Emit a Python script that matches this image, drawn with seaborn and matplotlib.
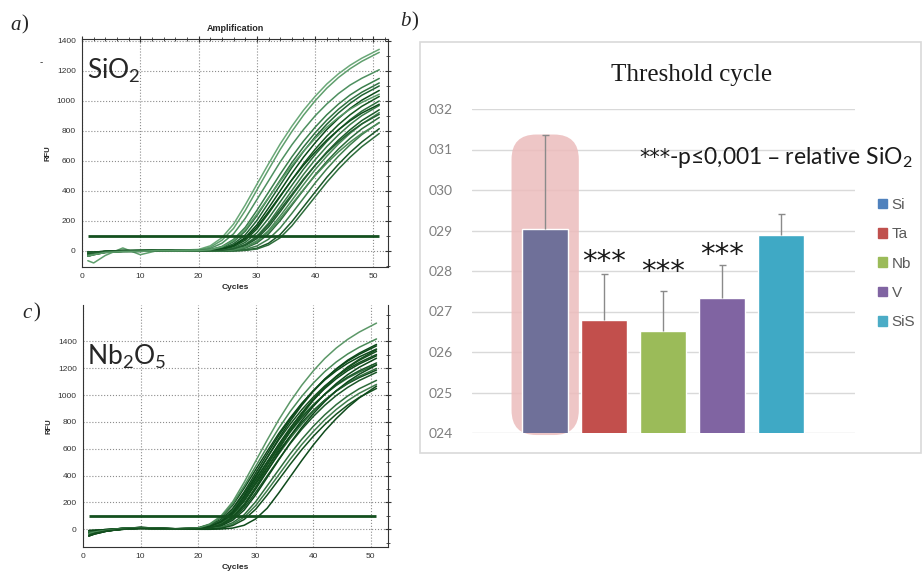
import numpy as np
import pandas as pd
import matplotlib
matplotlib.use("Agg")
import matplotlib.pyplot as plt
import seaborn as sns
from matplotlib.patches import FancyBboxPatch, Rectangle
from matplotlib.ticker import MultipleLocator

# ---- amplification curves (RFU at these cycles) ----
cycles = [1, 2, 4, 7, 10, 13, 16, 20, 22, 24, 26, 28, 30, 32, 34, 36, 38, 40, 42, 44, 46, 48, 51]

sio2_rfu = [
    [-25, -18, -6, 0, 2, 3, 4, 10, 34, 88, 179, 306, 444, 581, 713, 831, 938, 1031, 1113, 1181, 1238, 1285, 1344],
    [-65, -80, -30, 20, -25, 3, 2, 7, 25, 71, 150, 269, 406, 542, 676, 796, 905, 1001, 1085, 1156, 1215, 1264, 1324],
    [-15, -10, -4, 2, 0, 5, 3, 5, 17, 51, 114, 217, 342, 467, 593, 707, 809, 901, 980, 1049, 1106, 1151, 1208],
    [-30, -22, -8, -2, -3, 2, 2, 3, 9, 30, 77, 157, 270, 391, 512, 627, 732, 825, 908, 979, 1040, 1089, 1150],
    [-10, -12, -5, 0, 4, 6, 2, 2, 6, 22, 62, 131, 234, 353, 472, 589, 693, 788, 872, 945, 1007, 1058, 1120],
    [-35, -25, -10, -4, -2, 3, 1, 1, 4, 16, 48, 107, 203, 321, 439, 556, 663, 760, 845, 920, 984, 1038, 1100],
    [-20, -14, -3, 4, 3, 4, 2, 1, 3, 12, 38, 89, 174, 286, 401, 517, 625, 721, 809, 884, 950, 1005, 1070],
    [-5, -8, -2, 1, 0, 2, 0, 0, 2, 8, 28, 71, 146, 250, 362, 474, 581, 678, 765, 842, 908, 964, 1030],
    [-25, -18, -6, 0, 2, 3, 1, 0, 1, 6, 20, 57, 121, 217, 327, 437, 545, 642, 730, 807, 875, 932, 1000],
    [-15, -10, -4, 2, 0, 5, 3, 1, 0, 4, 15, 44, 98, 186, 294, 402, 510, 608, 696, 774, 843, 902, 970],
    [-30, -22, -8, -2, -3, 2, 2, 0, 0, 3, 11, 35, 82, 159, 261, 367, 472, 571, 660, 739, 808, 869, 941],
    [-10, -12, -5, 0, 4, 6, 2, 0, 0, 2, 8, 26, 67, 136, 233, 337, 442, 542, 632, 713, 784, 846, 922],
    [-35, -25, -10, -4, -2, 3, 1, 0, 0, 1, 6, 19, 53, 113, 202, 304, 406, 507, 597, 679, 751, 814, 890],
    [-20, -14, -3, 4, 3, 4, 2, 1, 0, 0, 3, 10, 33, 78, 153, 250, 351, 453, 547, 632, 708, 775, 857],
    [-5, -8, -2, 1, 0, 2, 0, 0, 0, 0, 1, 5, 18, 51, 109, 195, 294, 393, 491, 578, 657, 726, 815],
    [-25, -18, -6, 0, 2, 3, 1, 0, 0, 0, 0, 4, 13, 40, 88, 167, 264, 361, 458, 546, 625, 695, 783],
    [-15, -10, -4, 2, 0, 5, 3, 1, 3, 11, 35, 81, 159, 261, 367, 473, 571, 659, 739, 808, 868, 919, 978],
    [-30, -22, -8, -2, -3, 2, 2, 0, 0, 2, 7, 24, 62, 126, 216, 312, 409, 502, 585, 660, 726, 783, 854],
    [-10, -12, -5, 0, 4, 6, 2, 0, 0, 4, 14, 41, 92, 175, 276, 377, 479, 571, 654, 727, 792, 847, 911],
    [-35, -25, -10, -4, -2, 3, 1, 3, 8, 27, 70, 143, 245, 355, 465, 570, 665, 750, 825, 890, 945, 990, 1045],
]
sio2_colors = ["#6aa878", "#5f9f6d", "#4e9060", "#3b7f4c", "#2f7140", "#1f6231", "#0c4a19",
               "#14561f", "#2a6c3a", "#3a7a48", "#1c5c2a", "#4a8a58", "#2c6b3a", "#3f7e4d",
               "#1a5828", "#2d6d3b", "#0d4c1b", "#4d8c5a", "#235f31", "#5a9a68"]

nb2o5_rfu = [
    [-30, -20, -8, 5, 10, 6, 4, 11, 39, 100, 204, 350, 508, 665, 815, 951, 1073, 1180, 1273, 1351, 1416, 1470, 1537],
    [-45, -30, -12, 2, 8, 5, 3, 10, 34, 88, 179, 306, 444, 581, 713, 831, 938, 1031, 1113, 1181, 1238, 1285, 1344],
    [-15, -12, -5, 8, 12, 7, 4, 7, 24, 70, 148, 265, 399, 533, 665, 783, 891, 985, 1068, 1137, 1196, 1243, 1303],
    [-25, -22, -10, 0, 6, 4, 2, 8, 26, 73, 155, 278, 419, 559, 698, 822, 934, 1033, 1120, 1193, 1254, 1304, 1367],
    [-50, -35, -15, 3, 9, 6, 3, 7, 23, 66, 139, 250, 376, 503, 627, 738, 840, 928, 1006, 1072, 1127, 1172, 1228],
    [-10, -8, -2, 6, 14, 8, 4, 6, 18, 55, 122, 232, 366, 500, 634, 756, 866, 964, 1049, 1122, 1183, 1232, 1293],
    [-30, -20, -8, 5, 10, 6, 3, 5, 18, 53, 117, 222, 351, 480, 608, 725, 831, 924, 1006, 1076, 1135, 1182, 1240],
    [-45, -30, -12, 2, 8, 5, 2, 5, 17, 50, 112, 213, 336, 459, 582, 694, 795, 885, 963, 1030, 1086, 1131, 1187],
    [-15, -12, -5, 8, 12, 7, 4, 4, 14, 45, 107, 209, 343, 481, 620, 750, 866, 970, 1061, 1140, 1206, 1260, 1326],
    [-25, -22, -10, 0, 6, 4, 2, 4, 13, 41, 97, 189, 310, 435, 561, 678, 783, 878, 960, 1032, 1091, 1140, 1199],
    [-50, -35, -15, 3, 9, 6, 3, 3, 10, 33, 85, 174, 299, 433, 567, 695, 811, 915, 1007, 1086, 1153, 1208, 1275],
    [-10, -8, -2, 6, 14, 8, 4, 3, 9, 30, 78, 160, 274, 398, 521, 638, 745, 840, 924, 997, 1058, 1109, 1170],
    [-30, -20, -8, 5, 10, 6, 3, 2, 7, 24, 67, 143, 256, 386, 516, 643, 758, 861, 952, 1033, 1100, 1156, 1224],
    [-45, -30, -12, 2, 8, 5, 2, 1, 4, 16, 49, 108, 205, 324, 443, 562, 670, 767, 853, 929, 994, 1048, 1110],
    [-15, -12, -5, 8, 12, 7, 4, 1, 3, 12, 38, 90, 176, 288, 405, 522, 631, 728, 816, 893, 959, 1014, 1080],
    [-25, -22, -10, 0, 6, 4, 2, 1, 2, 8, 28, 73, 149, 255, 369, 484, 593, 692, 780, 858, 926, 983, 1050],
    [-50, -35, -15, 3, 9, 6, 3, 0, 0, 2, 9, 30, 77, 157, 270, 391, 512, 627, 732, 825, 908, 979, 1067],
    [-10, -8, -2, 6, 14, 8, 4, 6, 20, 59, 130, 247, 390, 533, 676, 806, 923, 1027, 1118, 1196, 1261, 1313, 1378],
    [-30, -20, -8, 5, 10, 6, 3, 9, 36, 92, 189, 323, 469, 614, 752, 878, 990, 1089, 1175, 1247, 1307, 1357, 1419],
    [-45, -30, -12, 2, 8, 5, 2, 3, 10, 35, 90, 183, 314, 454, 595, 730, 851, 960, 1056, 1139, 1210, 1267, 1338],
]
nb2o5_colors = ["#5c9868", "#0e4a1b", "#14501f", "#0e4a1b", "#2f6d3c", "#0e4a1b", "#1a5627",
                "#0e4a1b", "#14501f", "#2f6d3c", "#0e4a1b", "#1a5627", "#0e4a1b", "#2f6d3c",
                "#3f7c4c", "#14501f", "#0e4a1b", "#0e4a1b", "#4a8a58", "#14501f"]

threshold_rfu = 100

# ---- threshold cycle bar chart ----
ct_groups = ["Si", "Ta", "Nb", "V", "SiS"]
ct_mean = [29.04, 26.79, 26.53, 27.34, 28.88]
ct_err = [2.33, 1.13, 0.98, 0.81, 0.53]
bar_colors = ["#6f7099", "#c24f4c", "#9bbb59", "#8064a2", "#3fa9c5"]
legend_colors = ["#4f81bd", "#c0504d", "#9bbb59", "#8064a2", "#4bacc6"]
ct_ticks = [24, 25, 26, 27, 28, 29, 30, 31, 32]
star_groups = [1, 2, 3]
star_y = [28.44, 28.20, 28.62]

sns.set_theme(style="white")
plt.rcParams["font.family"] = ["Liberation Sans", "DejaVu Sans"]
plt.rcParams["mathtext.default"] = "regular"

W, H = 922, 578
fig = plt.figure(figsize=(W / 100, H / 100), dpi=100)


def px_axes(l, t, r, b):
    return fig.add_axes([l / W, 1 - b / H, (r - l) / W, (b - t) / H])


def amp_panel(ax, rows, colors, xlim, ylim, yticks):
    df = pd.DataFrame([(i, c, v) for i, row in enumerate(rows) for c, v in zip(cycles, row)],
                      columns=["curve", "cycle", "rfu"])
    pal = {i: colors[i] for i in range(len(rows))}
    sns.lineplot(data=df, x="cycle", y="rfu", hue="curve", palette=pal, legend=False,
                 estimator=None, lw=1.1, ax=ax)
    ax.hlines(threshold_rfu, 1, 51, color="#14501f", lw=2, zorder=5)
    ax.set_xlim(*xlim)
    ax.set_ylim(*ylim)
    ax.set_xticks([0, 10, 20, 30, 40, 50])
    ax.set_yticks(yticks)
    ax.xaxis.set_minor_locator(MultipleLocator(2))
    ax.yaxis.set_minor_locator(MultipleLocator(100))
    ax.grid(True, which="major", ls=":", color="#8c8c8c", lw=0.8)
    ax.tick_params(which="both", direction="inout", top=True, right=True,
                   labelsize=6, labelcolor="#333333", color="#333333", pad=2)
    ax.tick_params(which="major", length=5, width=0.8)
    ax.tick_params(which="minor", length=3, width=0.6)
    for s in ax.spines.values():
        s.set_color("#333333")
        s.set_linewidth(0.8)
    ax.set_xlabel("Cycles", fontsize=6, fontweight="bold", labelpad=3)
    ax.set_ylabel("RFU", fontsize=5.5, fontweight="bold", labelpad=4)


ax_a = px_axes(82, 39, 388, 267)
amp_panel(ax_a, sio2_rfu, sio2_colors, (0.2, 52.5), (-107, 1413), range(0, 1401, 200))
ax_a.set_title("Amplification", fontsize=6.5, fontweight="bold", pad=6)
fig.text(87 / W, 1 - 71 / H, "SiO$_2$", fontsize=19, family="Lato", va="center")
fig.text(40 / W, 1 - 62 / H, "-", fontsize=7, va="center")

ax_c = px_axes(83, 305, 388, 547)
amp_panel(ax_c, nb2o5_rfu, nb2o5_colors, (0.5, 53.0), (-132, 1672), range(0, 1401, 200))
ax_c.spines["top"].set_visible(False)
ax_c.tick_params(which="both", top=False)
fig.text(87 / W, 1 - 357 / H, "Nb$_2$O$_5$", fontsize=19, family="Lato", va="center")

# panel letters
for x, y, ch in [(10, 25, "a"), (400, 22, "b"), (22, 313, "c")]:
    fig.text(x / W, 1 - y / H, ch, fontsize=15, family="Liberation Serif",
             style="italic", va="center")
    fig.text(x / W + 0.012, 1 - y / H, ")", fontsize=15, family="Liberation Serif", va="center")

# ---- panel b ----
fig.add_artist(Rectangle((420 / W, 1 - 453 / H), (921 - 420) / W, (453 - 42) / H,
                         transform=fig.transFigure, fill=False, ec="#d9d9d9", lw=1.2))

ax_b = px_axes(472, 109, 855, 433)
ax_b.set_xlim(-1.24, 5.25)
ax_b.set_ylim(24, 32)
hl = FancyBboxPatch((-0.57, 23.95), 1.14, ct_mean[0] + ct_err[0] - 23.95,
                    boxstyle="round,pad=0,rounding_size=0.42", mutation_aspect=1.46,
                    fc="#ecbcbc", ec="none", alpha=0.85, zorder=1, clip_on=False)
ax_b.add_patch(hl)
sns.barplot(x=ct_groups, y=ct_mean, hue=ct_groups, palette=bar_colors, width=0.78,
            saturation=1, legend=False, ax=ax_b, zorder=2)
xs = np.arange(len(ct_groups))
tops = np.array(ct_mean) + np.array(ct_err)
ax_b.vlines(xs, ct_mean, tops, color="#8a8a8a", lw=1, zorder=3)
ax_b.hlines(tops, xs - 0.06, xs + 0.06, color="#8a8a8a", lw=1, zorder=3)
ax_b.set_xlim(-1.24, 5.25)
ax_b.set_ylim(24, 32)
ax_b.set_yticks(ct_ticks)
ax_b.set_yticklabels([f"0{v}" for v in ct_ticks])
ax_b.set_xticks([])
ax_b.set_xlabel("")
ax_b.set_ylabel("")
ax_b.grid(axis="y", color="#d9d9d9", lw=1)
ax_b.set_axisbelow(True)
for s in ax_b.spines.values():
    s.set_visible(False)
ax_b.tick_params(axis="y", length=0, labelsize=10, labelcolor="#7f7f7f", pad=14)
for lab in ax_b.get_yticklabels():
    lab.set_family("Lato")

for i, y in zip(star_groups, star_y):
    ax_b.annotate("***", xy=(i, y), xytext=(0, -12), textcoords="offset points",
                  ha="center", va="baseline", fontsize=21, family="DejaVu Sans",
                  color="#1a1a1a")

fig.text(692 / W, 1 - 75 / H, "Threshold cycle", fontsize=18, family="Liberation Serif",
         ha="center", va="center", color="#1a1a1a")
fig.text(639 / W, 1 - 158 / H, "***", fontsize=15, family="DejaVu Sans",
         va="center", color="#1a1a1a")
fig.text(669 / W, 1 - 157 / H, "-p≤0,001 – relative SiO$_2$", fontsize=16.5,
         family="Lato", va="center", color="#1a1a1a")

handles = [Rectangle((0, 0), 1, 1, color=c) for c in legend_colors]
ax_b.legend(handles, ct_groups, loc="upper left", bbox_to_anchor=(878 / W, 1 - 198 / H),
            bbox_transform=fig.transFigure, frameon=False, fontsize=11,
            labelcolor="#595959", handlelength=0.6, handleheight=0.6, handletextpad=0.3,
            labelspacing=1.0, borderaxespad=0, borderpad=0)

fig.savefig("out.png", dpi=100)
